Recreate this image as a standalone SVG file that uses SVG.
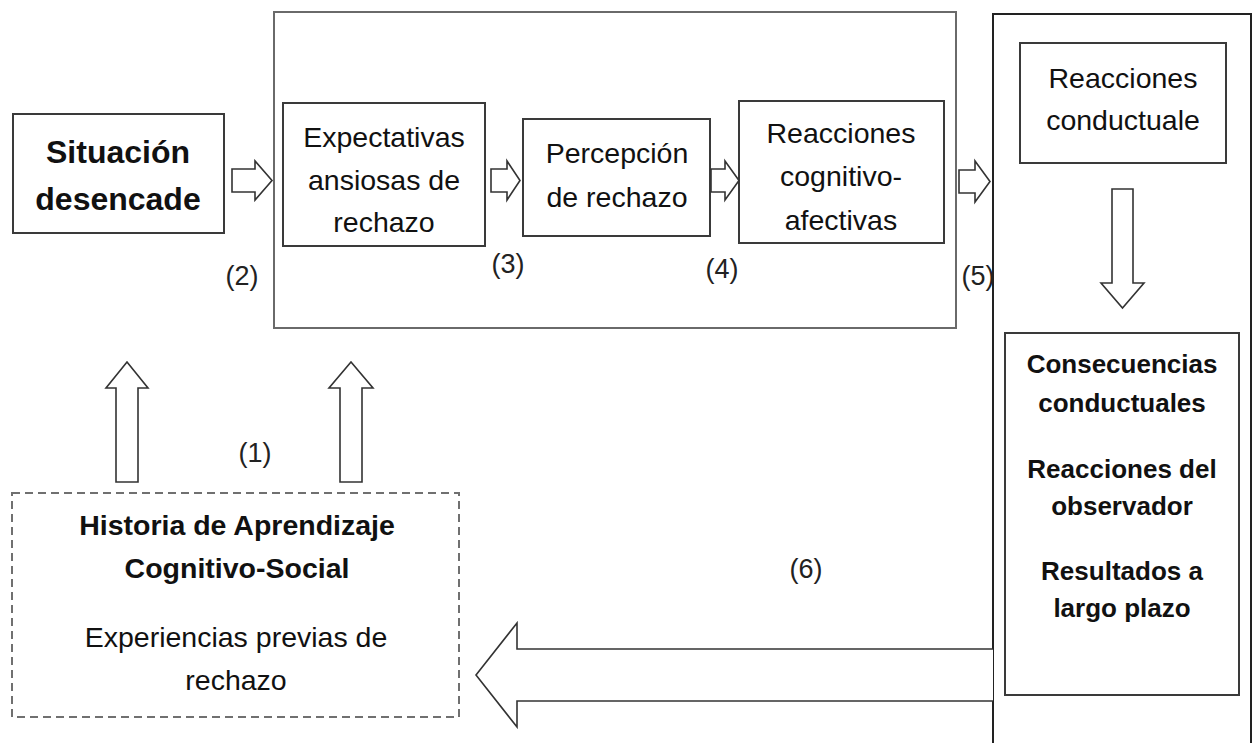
<svg xmlns="http://www.w3.org/2000/svg" width="1252" height="743" viewBox="0 0 1252 743">
<style>
.t{font-family:"Liberation Sans",Arial,sans-serif;fill:#111;text-anchor:middle}
.r{font-size:28.5px}
.b{font-weight:bold}
.lbl{font-size:27px;fill:#222}
.box{fill:#fff;stroke:#3a3a3a;stroke-width:2}
.cont{fill:none;stroke:#6a6a6a;stroke-width:2}
.arr{fill:#fff;stroke:#333;stroke-width:1.6;stroke-linejoin:miter}
</style>
<rect width="1252" height="743" fill="#fff"/>
<g id="container-middle"><rect class="cont" x="274" y="12" width="682" height="316"/></g>
<g id="container-right"><path d="M993 745 V14 H1251 V745" fill="none" stroke="#222" stroke-width="2"/></g>
<g id="situacion">
<rect class="box" x="13" y="114" width="211" height="119"/>
<text class="t b" x="118" y="163" font-size="32">Situación</text>
<text class="t b" x="118" y="210" font-size="32">desencade</text>
</g>
<g id="expectativas">
<rect class="box" x="283" y="103" width="202" height="143"/>
<text class="t r" x="384" y="147">Expectativas</text>
<text class="t r" x="384" y="190">ansiosas de</text>
<text class="t r" x="384" y="232">rechazo</text>
</g>
<g id="percepcion">
<rect class="box" x="523" y="119" width="187" height="117"/>
<text class="t r" x="617" y="163">Percepción</text>
<text class="t r" x="617" y="207">de rechazo</text>
</g>
<g id="reacciones-cog">
<rect class="box" x="739" y="101" width="205" height="142"/>
<text class="t r" x="841" y="143">Reacciones</text>
<text class="t r" x="841" y="186">cognitivo-</text>
<text class="t r" x="841" y="230">afectivas</text>
</g>
<g id="reacciones-cond">
<rect class="box" x="1020" y="43" width="206" height="120"/>
<text class="t r" x="1123" y="88">Reacciones</text>
<text class="t r" x="1123" y="130">conductuale</text>
</g>
<g id="consecuencias">
<rect class="box" x="1005" y="333" width="234" height="362"/>
<text class="t b" x="1122" y="373" font-size="26">Consecuencias</text>
<text class="t b" x="1122" y="412" font-size="26">conductuales</text>
<text class="t b" x="1122" y="478" font-size="26">Reacciones del</text>
<text class="t b" x="1122" y="515" font-size="26">observador</text>
<text class="t b" x="1122" y="580" font-size="26">Resultados a</text>
<text class="t b" x="1122" y="617" font-size="26">largo plazo</text>
</g>
<g id="historia">
<rect x="12" y="493" width="447" height="224" fill="#fff" stroke="#707070" stroke-width="2" stroke-dasharray="8,5"/>
<text class="t b" x="237" y="535" font-size="28.5">Historia de Aprendizaje</text>
<text class="t b" x="237" y="578" font-size="28.5">Cognitivo-Social</text>
<text class="t r" x="236" y="647">Experiencias previas de</text>
<text class="t r" x="236" y="690">rechazo</text>
</g>
<g id="connectors">
<path class="arr" d="M232 169 H255 V161 L272 180.5 L255 200 V192 H232 Z"/>
<path class="arr" d="M491 169 H507 V161 L520 180.5 L507 200 V192 H491 Z"/>
<path class="arr" d="M711 169 H725 V161 L739 180.5 L725 200 V192 H711 Z"/>
<path class="arr" d="M959 170 H975 V161 L990 181.5 L975 202 V193 H959 Z"/>
<path class="arr" d="M1112 189 H1133 V283 H1144 L1122.5 308 L1101 283 H1112 Z"/>
<path class="arr" d="M116 482 V388 H106 L127 362 L148 388 H138 V482 Z"/>
<path class="arr" d="M340 482 V388 H329 L351 362 L373 388 H362 V482 Z"/>
<path class="arr" d="M993 649 H517 V623 L476 675 L517 727 V701 H993"/>
<text class="t lbl" x="255" y="462" font-size="29">(1)</text>
<text class="t lbl" x="242" y="285">(2)</text>
<text class="t lbl" x="508" y="273">(3)</text>
<text class="t lbl" x="722" y="278">(4)</text>
<text class="t lbl" x="978" y="285">(5)</text>
<text class="t lbl" x="806" y="578">(6)</text>
</g>
</svg>
